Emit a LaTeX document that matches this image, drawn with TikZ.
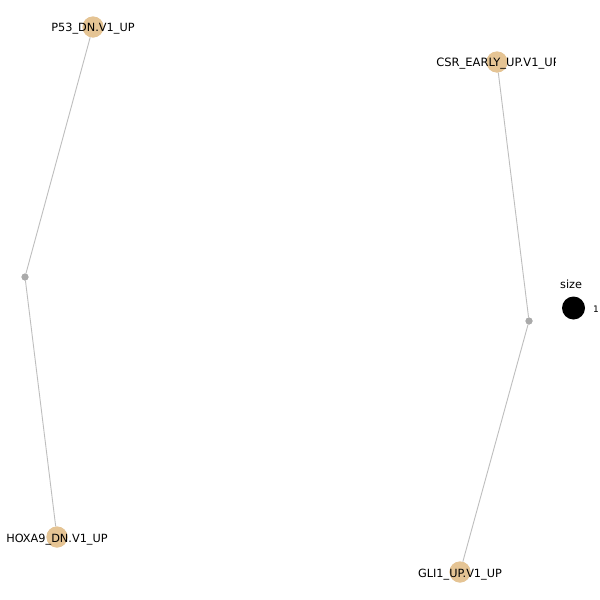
\documentclass[tikz,border=0pt]{standalone}
\usepackage{fontspec}
\setmainfont{DejaVu Sans}
\begin{document}
\begin{tikzpicture}[x=1pt,y=-1pt,
  gene/.style={circle,fill=nodetan,minimum size=21pt,inner sep=0pt},
  hub/.style={circle,fill=hubgrey,minimum size=7pt,inner sep=0pt},
  edge/.style={draw=edgegrey,line width=0.9pt},
  lbl/.style={font=\fontsize{11.3}{13}\selectfont,text=black,inner sep=0pt}]
\definecolor{nodetan}{HTML}{E5C494}
\definecolor{hubgrey}{HTML}{AAAAAA}
\definecolor{edgegrey}{HTML}{BEBEBE}
\useasboundingbox[fill=white] (0,0) rectangle (600,600);
% nodes
\node[gene] (p53) at (93,27) {};
\node[gene] (csr) at (497,62) {};
\node[gene] (hox) at (57,537) {};
\node[gene] (gli) at (460,572) {};
\node[hub] (h1) at (25,277) {};
\node[hub] (h2) at (529,321) {};
% edges
\draw[edge] (p53) -- (h1) -- (hox);
\draw[edge] (csr) -- (h2) -- (gli);
% redraw circles over edges
\node[gene] at (93,27) {};
\node[gene] at (497,62) {};
\node[gene] at (57,537) {};
\node[gene] at (460,572) {};
\node[hub] at (25,277) {};
\node[hub] at (529,321) {};
% labels
\node[lbl] (lp53) at (93,29) {P53\_DN.V1\_UP};
\node[lbl] (lhox) at (57,539.5) {HOXA9\_DN.V1\_UP};
\node[lbl] (lgli) at (460,574.5) {GLI1\_UP.V1\_UP};
\begin{scope}
\clip (0,0) rectangle (555,600);
\node[lbl,font=\fontsize{11.5}{13}\selectfont] (lcsr) at (498,64) {CSR\_EARLY\_UP.V1\_UP};
\end{scope}
% legend
\node[lbl,anchor=west] (lsize) at (560,284.5) {size};
\node[circle,fill=black,minimum size=23pt,inner sep=0pt] (lcirc) at (573.5,308) {};
\node[lbl,font=\fontsize{9}{11}\selectfont,anchor=west] (lone) at (593,309) {1};
\end{tikzpicture}
\end{document}
